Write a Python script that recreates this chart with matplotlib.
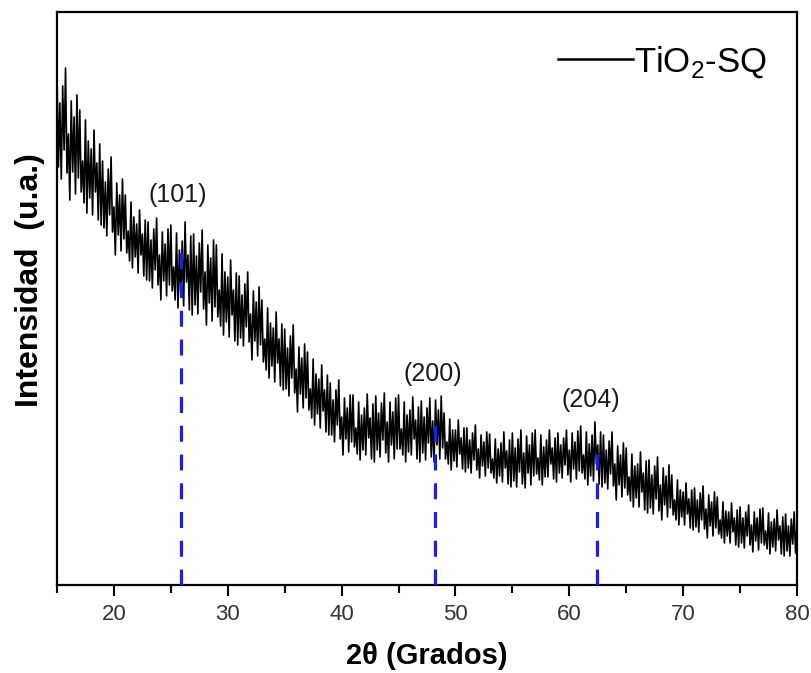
import numpy as np
import matplotlib
matplotlib.use('Agg')
import matplotlib.pyplot as plt

plt.rcParams['font.family'] = ['Liberation Sans', 'DejaVu Sans']
plt.rcParams['mathtext.fontset'] = 'custom'
plt.rcParams['mathtext.rm'] = 'Liberation Sans'

# intensity (arb. units), 8 samples per degree, 15..80
intensity = [
    511, 418, 482, 406, 499, 435, 517, 412,   # 15
    451, 385, 484, 413, 468, 391, 490, 407,   # 16
    475, 393, 424, 382, 465, 372, 444, 387,   # 17
    436, 370, 455, 393, 422, 365, 441, 360,   # 18
    424, 357, 403, 349, 416, 370, 428, 353,   # 19
    378, 330, 402, 350, 390, 334, 406, 346,   # 20
    390, 332, 354, 324, 383, 317, 368, 328,   # 21
    361, 312, 375, 330, 351, 309, 365, 305,   # 22
    363, 304, 345, 297, 356, 315, 367, 300,   # 23
    330, 285, 353, 304, 341, 289, 356, 300,   # 24
    360, 294, 318, 285, 352, 277, 335, 289,   # 25
    344, 279, 363, 303, 330, 275, 349, 270,   # 26
    351, 280, 329, 271, 342, 293, 355, 276,   # 27
    313, 260, 340, 282, 327, 264, 345, 278,   # 28
    340, 268, 295, 259, 331, 250, 313, 263,   # 29
    308, 248, 325, 270, 295, 244, 312, 240,   # 30
    309, 247, 290, 239, 301, 258, 313, 243,   # 31
    271, 225, 294, 244, 283, 229, 298, 240,   # 32
    285, 223, 246, 215, 277, 207, 262, 219,   # 33
    257, 203, 273, 222, 246, 199, 261, 195,   # 34
    256, 196, 237, 189, 249, 207, 260, 192,   # 35
    216, 173, 238, 191, 227, 177, 241, 187,   # 36
    233, 175, 196, 167, 226, 160, 211, 171,   # 37
    206, 157, 220, 174, 195, 153, 210, 150,   # 38
    202, 150, 185, 143, 195, 160, 205, 146,   # 39
    168, 130, 187, 146, 177, 133, 190, 143,   # 40
    190, 138, 157, 131, 183, 125, 170, 135,   # 41
    177, 130, 191, 147, 167, 126, 181, 123,   # 42
    189, 135, 172, 128, 182, 145, 192, 132,   # 43
    163, 123, 183, 140, 173, 126, 187, 136,   # 44
    190, 136, 156, 130, 183, 123, 170, 133,   # 45
    175, 130, 188, 146, 165, 126, 178, 123,   # 46
    184, 132, 168, 125, 177, 142, 187, 128,   # 47
    164, 123, 185, 140, 175, 126, 189, 137,   # 48
    172, 126, 143, 121, 166, 115, 155, 124,   # 49
    155, 118, 165, 131, 147, 116, 157, 113,   # 50
    157, 117, 145, 112, 152, 125, 160, 115,   # 51
    136, 107, 150, 119, 143, 109, 153, 117,   # 52
    151, 112, 126, 107, 146, 102, 136, 109,   # 53
    142, 103, 153, 117, 134, 101, 145, 98,    # 54
    152, 104, 137, 98, 146, 113, 155, 101,    # 55
    132, 97, 149, 112, 140, 100, 152, 109,    # 56
    155, 111, 127, 105, 150, 100, 138, 108,   # 57
    145, 108, 155, 121, 137, 106, 147, 103,   # 58
    152, 112, 140, 107, 147, 120, 155, 110,   # 59
    135, 103, 152, 116, 143, 106, 154, 114,   # 60
    159, 112, 130, 106, 153, 100, 141, 109,   # 61
    150, 104, 163, 121, 140, 101, 153, 98,    # 62
    150, 102, 135, 96, 144, 111, 153, 99,     # 63
    121, 85, 139, 100, 130, 88, 142, 97,      # 64
    137, 90, 108, 84, 131, 78, 119, 87,       # 65
    121, 78, 133, 93, 112, 75, 124, 72,       # 66
    125, 77, 110, 71, 119, 86, 128, 74,       # 67
    100, 65, 117, 80, 109, 68, 120, 77,       # 68
    110, 70, 85, 65, 105, 60, 95, 68,         # 69
    93, 60, 102, 71, 86, 57, 95, 55,          # 70
    97, 58, 85, 53, 92, 65, 99, 56,           # 71
    76, 47, 90, 59, 83, 49, 93, 57,           # 72
    88, 51, 65, 47, 83, 42, 74, 49,           # 73
    73, 42, 82, 53, 67, 40, 75, 38,           # 74
    78, 42, 67, 37, 73, 49, 80, 40,           # 75
    60, 33, 73, 44, 67, 35, 76, 42,           # 76
    77, 40, 54, 36, 72, 31, 63, 38,           # 77
    66, 34, 75, 45, 59, 31, 68, 29,           # 78
    71, 34, 59, 29, 66, 41, 73, 32,           # 79
    60,                                       # 80
]
two_theta = np.linspace(15, 80, len(intensity))

# reflections: position, height of the dashed marker, label position
peak_labels = ['(101)', '(200)', '(204)']
peak_pos = [25.9, 48.2, 62.4]
peak_top = [345, 168, 138]
label_x = [25.6, 48.0, 61.9]
label_y = [390, 211, 185]

fig = plt.figure(figsize=(8.12, 6.73), dpi=100)
ax = fig.add_axes([0.0702, 0.1308, 0.9113, 0.8514])

ax.plot(two_theta, intensity, color='black', lw=1.2, label='TiO$_2$-SQ', zorder=2)

for p, top in zip(peak_pos, peak_top):
    ax.plot([p, p], [0, top], color='#1a1aff', lw=2.3, dashes=(5, 4), zorder=3)

for lab, lx, ly in zip(peak_labels, label_x, label_y):
    ax.text(lx, ly, lab, fontsize=18, ha='center', va='center', color='#1a1a1a')

ax.set_xlim(15, 80)
ax.set_ylim(0, 573)
ax.set_xticks([20, 30, 40, 50, 60, 70, 80])
ax.set_xticks([15, 25, 35, 45, 55, 65, 75], minor=True)
ax.set_yticks([])
ax.tick_params(axis='x', which='major', length=8, width=1.5, labelsize=16, pad=6)
ax.tick_params(axis='x', which='minor', length=6, width=1.5)
for lbl in ax.get_xticklabels():
    lbl.set_color('#333333')
for s in ax.spines.values():
    s.set_linewidth(1.6)

ax.set_xlabel('2θ (Grados)', fontsize=21, fontweight='bold', labelpad=12)
ax.set_ylabel('Intensidad  (u.a.)', fontsize=23, fontweight='bold')
ax.yaxis.set_label_coords(-0.016, 0.532)

leg = ax.legend(loc='center right', bbox_to_anchor=(0.96, 0.913), frameon=False,
                fontsize=25, handlelength=2.15, handletextpad=0.05, borderpad=0,
                borderaxespad=0)
leg.get_lines()[0].set_linewidth(1.8)

fig.savefig('out.png', dpi=100)
